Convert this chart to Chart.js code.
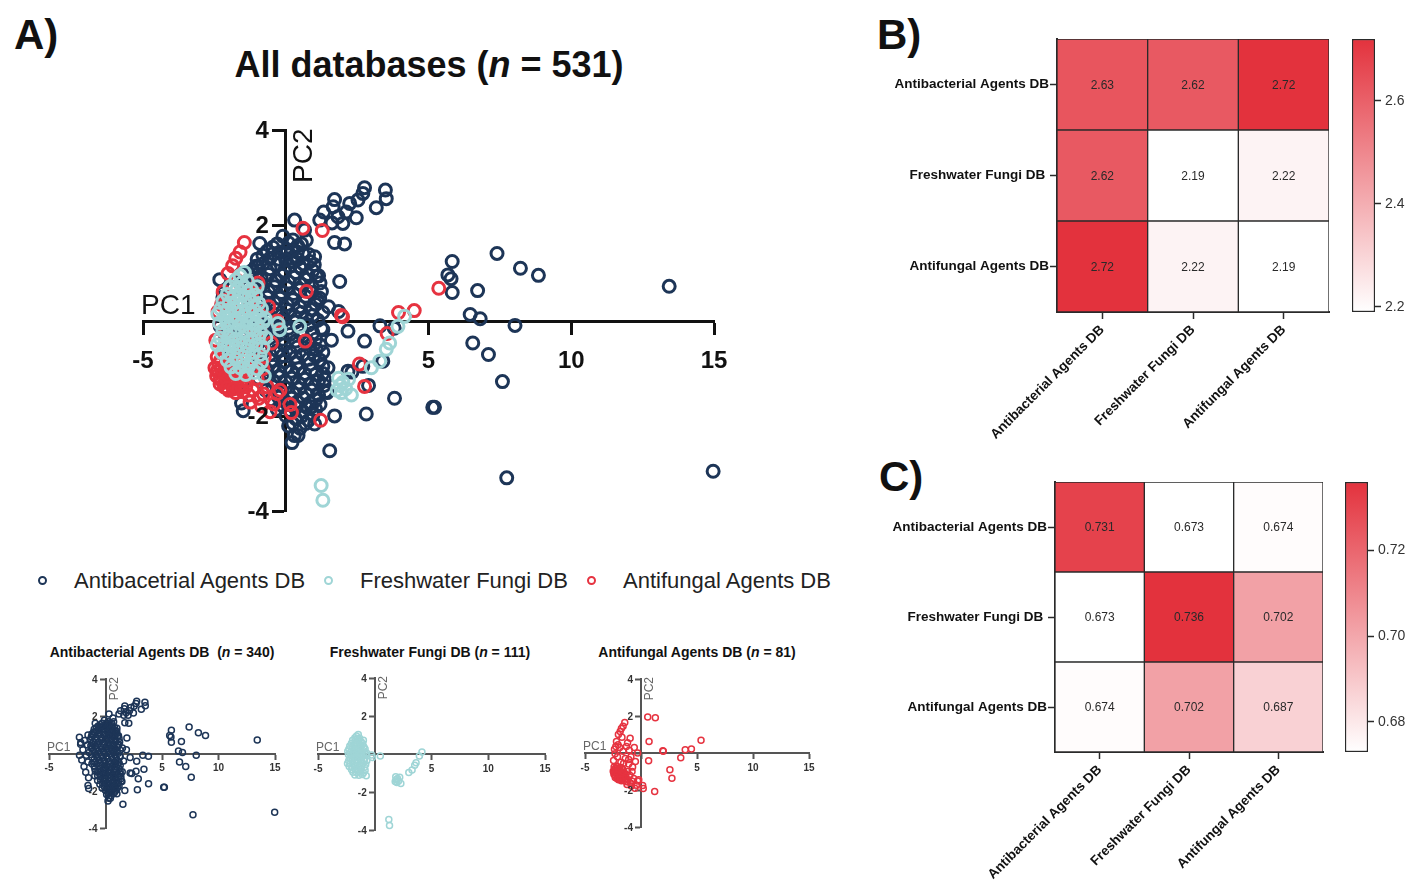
<!DOCTYPE html>
<html>
<head>
<meta charset="utf-8">
<script src="https://cdn.jsdelivr.net/npm/chart.js@4.4.1/dist/chart.umd.min.js"></script>
<style>
  body { margin: 0; background: #fff; width: 1409px; height: 882px; position: relative; overflow: hidden;
         font-family: 'Liberation Sans', Arial, sans-serif; }
  canvas { position: absolute; }
  .t { position: absolute; white-space: nowrap; color: #111; line-height: 1; }
  .ring { position: absolute; width: 5px; height: 5px; border-radius: 50%; border: 2px solid; }
</style>
</head>
<body>

<div class="t" style="left:14px;top:14px;font-size:42px;font-weight:bold">A)</div>
<div class="t" style="left:877px;top:14px;font-size:42px;font-weight:bold">B)</div>
<div class="t" style="left:879px;top:456px;font-size:42px;font-weight:bold">C)</div>
<div class="t" style="left:129px;width:600px;text-align:center;top:47px;font-size:36px;font-weight:bold">All databases (<i>n</i> = 531)</div>

<div class="ring" style="left:38px;top:576px;border-color:#1d3557"></div>
<div class="t" style="left:74px;top:570px;font-size:22px;color:#222">Antibacetrial Agents DB</div>
<div class="ring" style="left:324px;top:576px;border-color:#9fd5d6"></div>
<div class="t" style="left:360px;top:570px;font-size:22px;color:#222">Freshwater Fungi DB</div>
<div class="ring" style="left:587px;top:576px;border-color:#e63340"></div>
<div class="t" style="left:623px;top:570px;font-size:22px;color:#222">Antifungal Agents DB</div>

<div class="t" style="left:12px;width:300px;text-align:center;top:645px;font-size:14px;font-weight:bold">Antibacterial Agents DB&nbsp; (<i>n</i> = 340)</div>
<div class="t" style="left:280px;width:300px;text-align:center;top:645px;font-size:14px;font-weight:bold">Freshwater Fungi DB (<i>n</i> = 111)</div>
<div class="t" style="left:547px;width:300px;text-align:center;top:645px;font-size:14px;font-weight:bold">Antifungal Agents DB (<i>n</i> = 81)</div>

<canvas id="main"></canvas>
<canvas id="small1"></canvas>
<canvas id="small2"></canvas>
<canvas id="small3"></canvas>
<canvas id="heatB"></canvas>
<canvas id="barB"></canvas>
<canvas id="heatC"></canvas>
<canvas id="barC"></canvas>

<script>
// ---- data ----
const xTicks = [-5, 0, 5, 10, 15];
const yTicks = [-4, -2, 0, 2, 4];
const axisTitles = ['PC1', 'PC2'];

// PCA scores, [PC1, PC2]
const antibacterialPoints = [
  [2.76,2.80],[3.49,2.75],[2.70,2.68],[3.52,2.57],[3.17,2.38],[2.53,2.54],[2.24,2.47],[1.71,2.55],[1.66,2.40],
  [1.33,2.29],[2.12,2.29],[1.83,2.19],[2.47,2.17],[1.19,2.12],[1.62,2.06],[2.00,2.05],[0.31,2.12],[0.66,1.91],
  [0.72,1.70],[1.71,1.65],[2.06,1.62],[1.89,0.83],[1.19,0.48],[1.07,0.94],[-0.91,1.63],[-0.44,1.42],[0.02,1.42],
  [0.20,1.32],[0.49,1.14],[1.01,1.35],[-0.97,1.14],[-2.31,0.87],[-2.19,0.59],
  [7.40,1.42],[5.83,1.25],[8.22,1.11],[8.85,0.96],[5.68,0.97],[5.79,0.89],[5.83,0.60],[6.72,0.64],[13.43,0.73],
  [6.46,0.14],[6.81,0.05],[8.03,-0.09],[6.55,-0.46],[7.10,-0.70],[7.59,-1.27],[5.21,-1.81],[7.74,-3.29],[14.97,-3.15],
  [1.30,-0.18],[2.18,-0.21],[2.76,-0.42],[1.07,-0.59],[1.48,-0.98],[2.18,-1.05],[3.81,-1.62],[2.82,-1.95],[5.15,-1.81],
  [3.40,-0.84],[1.71,-1.99],[1.01,-2.16],[0.43,-2.40],[1.54,-2.72],[1.85,0.20],[3.30,-0.10],[3.80,-0.15],[1.36,-1.22],
  [-1.49,-1.88],[-1.55,-1.72],[0.90,-1.80],[1.60,-0.40],[1.50,0.30],[1.45,-1.50],[2.70,-0.95],[2.90,-1.35],[2.32,-1.07],
  [-2.20,0.50],[-2.00,0.20],[-1.85,0.70],[-1.70,-0.10],[-2.10,-0.35],[-1.60,0.45],[-1.90,-0.70],[-1.55,-0.45],
  [-1.45,0.05],[-1.75,-1.00],[-1.50,-1.30],[-1.35,0.75],[-1.55,1.00],[-2.30,-0.10],
  [-0.10,1.78],[0.25,1.70],[0.55,1.62],[-0.45,1.55],[0.05,1.50],[0.40,1.45],[0.80,1.40],[-0.80,1.38],[-0.25,1.30],
  [0.20,1.25],[0.62,1.20],[1.00,1.18],[-1.05,1.15],[-0.55,1.10],[-0.05,1.05],[0.35,1.02],[0.78,0.98],[1.15,0.95],
  [-1.25,0.90],[-0.85,0.88],[-0.35,0.85],[0.10,0.82],[0.50,0.78],[0.92,0.72],[-1.10,0.65],[-0.60,0.62],[-0.15,0.60],
  [0.28,0.58],[0.70,0.52],[1.10,0.45],[-1.30,0.42],[-0.85,0.40],[-0.40,0.38],[0.05,0.35],[0.48,0.30],[0.88,0.25],
  [-1.05,0.18],[-0.60,0.15],[-0.15,0.12],[0.30,0.10],[0.72,0.05],[1.12,0.02],
  [-1.25,-0.05],[-0.80,-0.08],[-0.35,-0.12],[0.10,-0.15],[0.55,-0.20],[0.95,-0.25],[-1.00,-0.30],[-0.55,-0.35],
  [-0.10,-0.38],[0.35,-0.42],[0.80,-0.45],[1.20,-0.50],[-1.20,-0.55],[-0.75,-0.58],[-0.30,-0.62],[0.15,-0.65],
  [0.60,-0.70],[1.00,-0.72],[-0.95,-0.80],[-0.50,-0.82],[-0.05,-0.85],[0.40,-0.88],[0.85,-0.90],[1.30,-0.95],
  [-0.70,-1.00],[-0.25,-1.05],[0.20,-1.05],[0.65,-1.10],[1.05,-1.12],[-0.95,-1.20],[-0.45,-1.25],[0.00,-1.28],
  [0.45,-1.30],[0.90,-1.32],[1.35,-1.35],[-0.70,-1.45],[-0.20,-1.48],[0.25,-1.50],[0.70,-1.52],[1.15,-1.55],
  [-0.50,-1.65],[-0.05,-1.68],[0.40,-1.70],[0.85,-1.72],[-0.30,-1.85],[0.15,-1.88],[0.60,-1.90],[1.05,-1.85],
  [0.35,-2.05],[0.80,-2.08],[0.10,-2.20],[0.50,-2.25],[0.30,-2.40],[0.22,-2.55],
  [-0.30,1.62],[0.10,1.64],[0.42,1.58],
  [-0.65,1.47],[-0.20,1.45],[0.22,1.48],[0.60,1.42],
  [-1.00,1.30],[-0.55,1.32],[0.00,1.28],[0.42,1.30],[0.85,1.25],
  [-1.20,1.05],[-0.80,1.20],[-0.30,1.18],[0.15,1.15],[0.55,1.10],[0.95,1.06],
  [-1.05,0.98],[-0.60,0.98],[-0.15,0.96],[0.30,0.92],[0.70,0.88],[1.20,0.80],
  [-1.30,0.72],[-0.85,0.75],[-0.40,0.72],[0.05,0.70],[0.50,0.66],[0.90,0.60],[1.25,0.62],
  [-1.20,0.52],[-0.65,0.50],[-0.20,0.48],[0.25,0.45],[0.65,0.40],[1.05,0.35],
  [-1.25,0.28],[-0.80,0.25],[-0.35,0.24],[0.10,0.22],[0.55,0.18],[0.95,0.12],[1.30,0.18],
  [-1.00,0.05],[-0.55,0.02],[-0.10,0.00],[0.35,-0.02],[0.80,-0.08],[1.25,-0.15],
  [-1.20,-0.22],[-0.75,-0.22],[-0.30,-0.25],[0.15,-0.28],[0.60,-0.32],[1.05,-0.38],
  [-0.95,-0.45],[-0.50,-0.48],[-0.05,-0.50],[0.40,-0.55],[0.85,-0.58],[1.30,-0.65],
  [-1.00,-0.68],[-0.55,-0.70],[-0.10,-0.72],[0.35,-0.76],[0.80,-0.80],[1.20,-0.82],
  [-0.90,-0.95],[-0.45,-0.95],[0.00,-0.97],[0.45,-1.00],[0.90,-1.02],[1.30,-1.10],
  [-0.70,-1.18],[-0.20,-1.17],[0.22,-1.20],[0.68,-1.22],[1.15,-1.25],
  [-0.45,-1.38],[0.00,-1.40],[0.48,-1.42],[0.92,-1.45],[1.40,-1.48],
  [-0.25,-1.60],[0.20,-1.62],[0.62,-1.62],[1.05,-1.65],
  [-0.10,-1.78],[0.38,-1.80],[0.72,-1.80],[1.20,-1.75],
  [0.00,-1.98],[0.55,-2.00],[0.95,-1.97],
  [0.25,-2.15],[0.70,-2.15]
];

const freshwaterPoints = [
  [-1.45,1.02],[-1.60,0.95],
  [-1.75,0.86],[-1.35,0.84],[-1.55,0.80],
  [-1.95,0.72],[-1.70,0.68],[-1.42,0.70],[-1.20,0.66],
  [-2.05,0.56],[-1.82,0.52],[-1.58,0.55],[-1.30,0.50],[-1.05,0.54],
  [-2.20,0.42],[-1.98,0.38],[-1.72,0.40],[-1.45,0.36],[-1.20,0.40],[-0.95,0.37],
  [-2.28,0.26],[-2.05,0.22],[-1.80,0.25],[-1.55,0.20],[-1.30,0.24],[-1.05,0.20],[-0.85,0.26],
  [-2.15,0.08],[-1.90,0.10],[-1.65,0.06],[-1.40,0.10],[-1.15,0.05],[-0.90,0.09],
  [-2.32,-0.04],[-2.05,-0.06],[-1.78,-0.03],[-1.52,-0.08],[-1.25,-0.04],[-1.00,-0.07],[-0.78,-0.02],
  [-2.20,-0.20],[-1.95,-0.22],[-1.68,-0.18],[-1.40,-0.22],[-1.12,-0.19],[-0.88,-0.24],
  [-2.30,-0.36],[-2.02,-0.34],[-1.78,-0.38],[-1.50,-0.35],[-1.22,-0.38],[-0.95,-0.34],
  [-2.15,-0.50],[-1.88,-0.52],[-1.60,-0.49],[-1.32,-0.53],[-1.05,-0.50],[-0.80,-0.55],
  [-2.25,-0.66],[-1.98,-0.68],[-1.70,-0.64],[-1.42,-0.68],[-1.15,-0.66],[-0.90,-0.70],
  [-2.05,-0.82],[-1.75,-0.80],[-1.50,-0.84],[-1.20,-0.82],[-0.85,-0.86],
  [-1.92,-0.96],[-1.60,-0.98],[-1.30,-0.95],[-1.00,-1.00],
  [-1.75,-1.10],[-1.40,-1.12],[-1.10,-1.08],[-0.75,-1.15],
  [-2.38,0.15],[-2.40,-0.50],[-1.00,0.72],[-0.70,-0.35],[-0.72,0.05],
  [-0.21,-0.18],[0.49,-0.11],[-0.27,-0.05],
  [4.16,0.10],[3.93,-0.11],[3.64,-0.46],[3.52,-0.59],[3.29,-0.84],[3.00,-0.98],[2.00,-1.29],[2.20,-1.22],
  [1.85,-1.20],[1.90,-1.35],[2.10,-1.42],[1.95,-1.50],[2.30,-1.55],[1.80,-1.45],[1.24,-3.45],[1.30,-3.76]
];

const antifungalPoints = [
  [0.60,1.95],[1.28,1.90],[-1.45,1.65],[-1.60,1.45],[-1.75,1.32],[-1.86,1.16],[-2.02,1.00],[-0.97,0.80],[0.72,0.62],
  [5.36,0.69],[-2.19,0.62],[-2.05,0.45],[-2.37,0.20],[-2.31,-0.04],[1.95,0.12],[1.99,0.09],[3.95,0.18],[4.50,0.22],
  [3.55,-0.26],[0.68,-0.42],[-0.50,-0.46],[2.58,-0.90],[2.76,-1.37],[1.22,-2.08],[0.20,-1.92],[-0.42,-1.74],
  [-0.30,-1.52],[-0.20,-1.45],[-0.78,-1.53],[-0.65,-1.38],
  [-1.90,0.30],[-1.60,0.10],[-2.10,-0.20],[-1.40,-0.30],[-1.80,-0.50],[-1.10,-0.60],[-1.30,0.35],[-0.90,-0.20],
  [-2.40,-0.75],[-2.15,-0.72],[-1.90,-0.78],[-2.35,-0.90],[-2.10,-0.92],[-1.85,-0.95],[-1.60,-0.90],[-2.40,-1.05],
  [-2.20,-1.08],[-1.95,-1.10],[-1.70,-1.06],[-1.45,-1.10],[-2.30,-1.22],[-2.05,-1.25],[-1.80,-1.20],[-1.55,-1.25],
  [-2.15,-1.38],[-1.90,-1.35],[-1.65,-1.40],[-1.40,-1.38],[-2.00,-1.45],[-1.75,-1.50],[-1.50,-1.48],[-1.30,-1.55],
  [-1.00,-1.20],[-1.20,-1.00],[-0.80,-1.00],[-1.55,-0.55],[-1.15,-1.45],[-0.95,-1.62],[-1.25,-1.70],[-2.25,0.35],
  [-1.70,0.85],[-1.20,0.55],[-0.60,0.30],[-0.75,-0.75],[-2.45,-0.40],[-0.30,0.00],[-1.05,0.15],[0.15,-1.75],
  [-0.55,-1.90],[-0.85,-1.78],[-1.10,-0.35],
  [-2.28,-0.82],[-2.00,-0.85],[-1.72,-0.82],[-2.48,-0.98],[-2.25,-1.00],[-1.98,-1.02],[-1.78,-1.13],[-1.55,-1.05],
  [-2.42,-1.15],[-2.12,-1.17],[-1.88,-1.28],[-1.60,-1.33],[-2.30,-1.32],[-2.05,-1.40],[-1.82,-1.42],[-1.35,-1.25]
];

// heatmaps: rows top to bottom, columns left to right
const dbNames = ['Antibacterial Agents DB', 'Freshwater Fungi DB', 'Antifungal Agents DB'];
const rowLabels = ['Antibacterial Agents DB', 'Freshwater Fungi DB ', 'Antifungal Agents DB'];
const valuesB = [
  [2.63, 2.62, 2.72],
  [2.62, 2.19, 2.22],
  [2.72, 2.22, 2.19]
];
const valuesC = [
  [0.731, 0.673, 0.674],
  [0.673, 0.736, 0.702],
  [0.674, 0.702, 0.687]
];
const rangeB = [2.19, 2.72];
const rangeC = [0.673, 0.736];
const barTicksB = [2.2, 2.4, 2.6];
const barTicksC = [0.68, 0.70, 0.72];

// ---- styles ----
const FONT = "'Liberation Sans', Arial, sans-serif";
const NAVY = '#1d3557', CYAN = '#9fd5d6', RED = '#e63340';
const HEAT = [227, 50, 61];

function zeroPad(sc) { sc.paddingLeft = sc.paddingRight = sc.paddingTop = sc.paddingBottom = 0; }

// y tick labels and PC titles for axes that cross at the origin
const crossAxis = {
  id: 'crossAxis',
  afterDraw(chart, args, o) {
    const { ctx, scales: { x, y } } = chart;
    const x0 = x.getPixelForValue(0);
    ctx.save();
    ctx.fillStyle = o.color;
    ctx.font = 'bold ' + o.size + 'px ' + FONT;
    ctx.textAlign = 'right';
    ctx.textBaseline = 'middle';
    yTicks.forEach(v => { if (v !== 0) ctx.fillText(String(v), x0 - o.gap, y.getPixelForValue(v) + 1); });
    ctx.fillStyle = o.pcColor;
    ctx.font = o.pcSize + 'px ' + FONT;
    ctx.textAlign = 'left';
    ctx.textBaseline = 'alphabetic';
    ctx.fillText(axisTitles[0], x.left - 2, y.getPixelForValue(0) - o.pcLift);
    ctx.translate(x0 + o.pcOff, y.top - 2);
    ctx.rotate(-Math.PI / 2);
    ctx.textAlign = 'right';
    ctx.textBaseline = 'top';
    ctx.fillText(axisTitles[1], 0, 0);
    ctx.restore();
  }
};

function scatter(id, area, sets, s) {
  const m = 60;
  const cv = document.getElementById(id);
  const l = Math.round(area.l) - m, t = Math.round(area.t) - m;
  cv.width = Math.round(area.r) + m - l;
  cv.height = Math.round(area.b) + m - t;
  cv.style.left = l + 'px';
  cv.style.top = t + 'px';
  const axisOpts = {
    border: { display: true, color: s.axisC, width: s.axisW },
    grid: { display: true, drawOnChartArea: false, drawTicks: true, tickLength: s.tickLen, tickWidth: s.axisW, tickColor: s.axisC }
  };
  new Chart(cv, {
    type: 'scatter',
    data: {
      datasets: sets.map((st, i) => ({
        data: st.pts.map(p => ({ x: p[0], y: p[1] })),
        pointRadius: s.r,
        pointBorderWidth: s.bw,
        pointBorderColor: st.color,
        pointBackgroundColor: 'rgba(0,0,0,0)',
        borderColor: st.color,
        backgroundColor: 'rgba(0,0,0,0)',
        clip: false,
        order: i
      }))
    },
    options: {
      responsive: false,
      animation: false,
      events: [],
      layout: { padding: { left: area.l - l, right: l + cv.width - area.r, top: area.t - t, bottom: t + cv.height - area.b } },
      plugins: {
        legend: { display: false },
        tooltip: { enabled: false },
        crossAxis: { color: s.labelC, size: s.tickFont, gap: s.yGap, pcColor: s.pcC, pcSize: s.pcFont, pcLift: s.pcLift, pcOff: s.pcOff }
      },
      scales: {
        x: Object.assign({
          type: 'linear', min: -5, max: 15, position: { y: 0 },
          afterBuildTicks: sc => { sc.ticks = xTicks.map(v => ({ value: v })); },
          ticks: { autoSkip: false, maxRotation: 0, padding: s.xPad, color: s.labelC,
                   font: { family: FONT, size: s.tickFont, weight: 'bold' },
                   callback: v => (v === 0 ? '' : String(v)) },
          afterFit: zeroPad
        }, axisOpts),
        y: Object.assign({
          type: 'linear', min: -4, max: 4, position: { x: 0 },
          afterBuildTicks: sc => { sc.ticks = yTicks.map(v => ({ value: v })); },
          ticks: { display: false },
          afterFit: zeroPad
        }, axisOpts)
      }
    },
    plugins: [crossAxis]
  });
}

const big = { r: 6, bw: 3, axisC: '#111', axisW: 3, tickLen: 12, tickFont: 24, labelC: '#111', xPad: 14, yGap: 17,
              pcC: '#111', pcFont: 28, pcLift: 7, pcOff: 5 };
const small = { r: 3, bw: 1.5, axisC: '#555', axisW: 2, tickLen: 5, tickFont: 10, labelC: '#333', xPad: 4, yGap: 8,
                pcC: '#666', pcFont: 12, pcLift: 3, pcOff: 3 };

scatter('main', { l: 143, r: 714, t: 130.5, b: 511.7 }, [
  { pts: freshwaterPoints, color: CYAN },
  { pts: antifungalPoints, color: RED },
  { pts: antibacterialPoints, color: NAVY }
], big);
scatter('small1', { l: 49, r: 275, t: 679, b: 828 }, [{ pts: antibacterialPoints, color: NAVY }], small);
scatter('small2', { l: 318, r: 545, t: 678, b: 830 }, [{ pts: freshwaterPoints, color: CYAN }], small);
scatter('small3', { l: 585, r: 809, t: 679, b: 827 }, [{ pts: antifungalPoints, color: RED }], small);

// ---- heatmaps ----
function heatColor(v, range) {
  const f = Math.max(0, Math.min(1, (v - range[0]) / (range[1] - range[0])));
  const c = HEAT.map(h => Math.round(255 - f * (255 - h)));
  return 'rgb(' + c.join(',') + ')';
}

const cellText = {
  id: 'cellText',
  afterDatasetsDraw(chart, args, o) {
    const ctx = chart.ctx;
    ctx.save();
    ctx.fillStyle = '#2a2a2a';
    ctx.font = '12px ' + FONT;
    ctx.textAlign = 'center';
    ctx.textBaseline = 'middle';
    chart.data.datasets.forEach((ds, i) => {
      chart.getDatasetMeta(i).data.forEach((el, j) => {
        ctx.fillText(ds.cellValues[j].toFixed(o.digits), el.x, (el.y + el.base) / 2 + 1);
      });
    });
    ctx.restore();
  }
};

function heatmap(id, area, vals, range, digits, xAxisH) {
  const cv = document.getElementById(id);
  const l = 870, t = area.t - 30;
  cv.width = area.r + 8 - l;
  cv.height = area.b + xAxisH - t;
  cv.style.left = l + 'px';
  cv.style.top = t + 'px';
  const rows = vals.slice().reverse(); // bottom row first when stacking
  new Chart(cv, {
    type: 'bar',
    data: {
      labels: dbNames,
      datasets: rows.map(row => ({
        data: row.map(() => 1),
        cellValues: row,
        backgroundColor: row.map(v => heatColor(v, range)),
        borderColor: '#2a2a2a',
        borderWidth: 1,
        borderSkipped: false,
        barPercentage: 1,
        categoryPercentage: 1
      }))
    },
    options: {
      responsive: false,
      animation: false,
      events: [],
      layout: { padding: { left: 0, right: l + cv.width - area.r, top: area.t - t, bottom: 0 } },
      plugins: { legend: { display: false }, tooltip: { enabled: false }, cellText: { digits } },
      scales: {
        x: {
          type: 'category', stacked: true, offset: true,
          border: { display: true, color: '#2a2a2a', width: 2 },
          grid: { display: true, offset: false, drawOnChartArea: false, tickLength: 7, tickWidth: 1.5, tickColor: '#2a2a2a' },
          ticks: { autoSkip: false, minRotation: 45, maxRotation: 45, padding: 3, color: '#111',
                   font: { family: FONT, size: 13.5, weight: 'bold' } },
          afterFit: sc => { zeroPad(sc); sc.height = xAxisH; }
        },
        y: {
          type: 'linear', stacked: true, min: 0, max: 3,
          afterBuildTicks: sc => { sc.ticks = [0.5, 1.5, 2.5].map(v => ({ value: v })); },
          border: { display: true, color: '#2a2a2a', width: 2 },
          grid: { display: true, drawOnChartArea: false, tickLength: 7, tickWidth: 1.5, tickColor: '#2a2a2a' },
          ticks: { padding: 1, color: '#111', font: { family: FONT, size: 13.5, weight: 'bold' },
                   callback: v => rowLabels[2 - Math.floor(v)] },
          afterFit: sc => { zeroPad(sc); sc.width = area.l - l; }
        }
      }
    },
    plugins: [cellText]
  });
}

function colorbar(id, area, range, ticks, digits, xAxisH) {
  const cv = document.getElementById(id);
  const l = area.l - 10, t = area.t - 30;
  cv.width = 1409 - l;
  cv.height = area.b + xAxisH - t;
  cv.style.left = l + 'px';
  cv.style.top = t + 'px';
  new Chart(cv, {
    type: 'bar',
    data: {
      labels: [''],
      datasets: [{
        data: [range],
        backgroundColor: c => {
          const a = c.chart.chartArea;
          if (!a) return null;
          const g = c.chart.ctx.createLinearGradient(0, a.bottom, 0, a.top);
          g.addColorStop(0, '#ffffff');
          g.addColorStop(1, 'rgb(' + HEAT.join(',') + ')');
          return g;
        },
        borderColor: '#2a2a2a',
        borderWidth: 1.5,
        borderSkipped: false,
        barPercentage: 1,
        categoryPercentage: 1
      }]
    },
    options: {
      responsive: false,
      animation: false,
      events: [],
      layout: { padding: { left: 10, right: 0, top: 30, bottom: xAxisH } },
      plugins: { legend: { display: false }, tooltip: { enabled: false } },
      scales: {
        x: { display: false },
        y: {
          position: 'right', min: range[0], max: range[1],
          afterBuildTicks: sc => { sc.ticks = ticks.map(v => ({ value: v })); },
          border: { display: false },
          grid: { display: true, drawOnChartArea: false, tickLength: 6, tickWidth: 1.5, tickColor: '#2a2a2a' },
          ticks: { padding: 4, color: '#333', font: { family: FONT, size: 14 }, callback: v => v.toFixed(digits) },
          afterFit: sc => { zeroPad(sc); sc.width = 1409 - area.r; }
        }
      }
    }
  });
}

heatmap('heatB', { l: 1057, r: 1329, t: 39, b: 312 }, valuesB, rangeB, 2, 140);
colorbar('barB', { l: 1352, r: 1375, t: 39, b: 312 }, rangeB, barTicksB, 1, 140);
heatmap('heatC', { l: 1055, r: 1323, t: 482, b: 752 }, valuesC, rangeC, 3, 130);
colorbar('barC', { l: 1345, r: 1368, t: 482, b: 752 }, rangeC, barTicksC, 2, 130);
</script>
</body>
</html>
